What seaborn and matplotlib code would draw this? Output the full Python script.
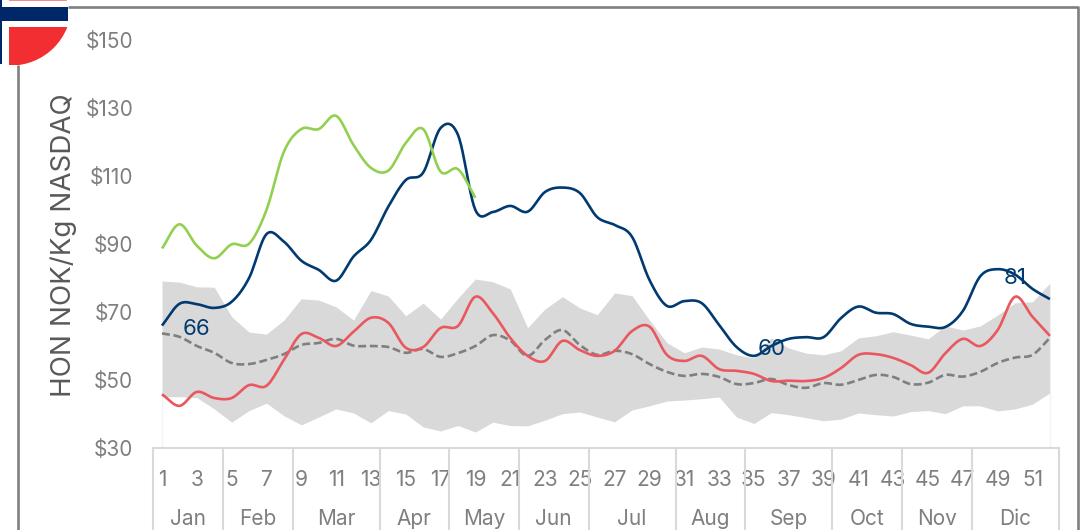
import numpy as np
import pandas as pd
import matplotlib
matplotlib.use("Agg")
import matplotlib.pyplot as plt
from matplotlib.patches import Circle, Rectangle
import seaborn as sns

# Weekly prices, NOK per kg
weeks = list(range(1, 53))
season_2023 = [66.0, 72.4, 72.3, 71.2, 73.0, 80.0, 92.9, 90.7, 85.1, 82.4, 79.2, 86.3, 91.2,
               101.0, 108.8, 111.0, 124.1, 122.1, 100.0, 99.4, 101.2, 99.5, 105.3, 106.6, 105.0, 97.9,
               95.6, 92.1, 79.4, 71.8, 73.2, 72.6, 66.2, 59.7, 57.1, 60.0, 62.1, 62.6, 62.6,
               68.2, 71.6, 69.8, 69.4, 66.5, 65.7, 65.6, 70.3, 80.5, 82.6, 81.0, 76.8, 73.8]
season_2024 = [88.7, 95.8, 89.5, 85.8, 89.9, 90.1, 100.0, 117.1, 123.8, 123.8, 127.7, 119.1, 112.4,
               111.6, 119.7, 123.8, 111.3, 112.0, 103.6]
season_2022 = [45.8, 42.4, 46.5, 44.7, 44.7, 48.5, 48.3, 55.9, 63.5, 62.4, 60.0, 64.2, 68.3,
               66.8, 59.5, 59.7, 65.3, 65.9, 74.5, 69.7, 62.4, 57.1, 55.6, 61.5, 58.8, 57.1,
               58.6, 64.4, 65.7, 57.4, 55.6, 57.1, 53.2, 52.7, 51.8, 49.7, 49.8, 49.7, 50.6,
               53.5, 57.4, 57.6, 56.5, 54.4, 52.1, 57.9, 62.1, 60.0, 64.7, 74.5, 68.6, 63.0]
average = [63.7, 62.7, 60.0, 58.0, 55.0, 54.7, 55.9, 57.6, 60.3, 60.9, 62.1, 60.1, 60.0,
           59.7, 58.0, 59.1, 56.8, 57.9, 60.0, 63.2, 61.6, 57.1, 61.8, 64.7, 60.3, 57.4,
           58.6, 57.6, 54.7, 52.4, 51.2, 51.8, 50.9, 48.8, 49.1, 50.3, 48.5, 47.7, 49.1,
           48.6, 50.0, 51.5, 50.9, 48.8, 49.2, 51.5, 51.0, 52.4, 55.0, 56.6, 57.4, 62.4]
range_high = [79.1, 78.8, 77.4, 77.3, 68.6, 64.1, 63.5, 67.6, 73.9, 73.5, 71.5, 67.6, 76.3,
              74.7, 68.9, 72.6, 67.9, 74.1, 79.7, 78.9, 76.8, 65.4, 70.9, 74.5, 71.2, 69.2,
              75.6, 74.8, 67.6, 61.0, 58.0, 59.7, 59.1, 57.4, 56.5, 62.4, 59.4, 57.9, 57.4,
              58.6, 62.4, 63.0, 64.2, 63.2, 62.1, 65.9, 64.7, 65.9, 69.1, 72.7, 73.0, 78.5]
range_low = [45.1, 45.1, 44.8, 41.5, 37.6, 41.0, 43.2, 39.5, 36.8, 39.1, 41.5, 40.3, 37.4,
             41.0, 40.0, 36.2, 35.0, 36.6, 34.7, 37.6, 36.6, 36.5, 38.2, 40.1, 40.6, 39.1,
             37.7, 41.2, 42.4, 43.8, 44.1, 44.5, 45.0, 39.1, 37.2, 40.4, 39.8, 38.9, 38.0,
             38.5, 40.3, 39.8, 39.4, 40.7, 41.0, 40.1, 42.4, 42.4, 40.9, 41.5, 42.9, 46.2]

months = ["Jan", "Feb", "Mar", "Apr", "May", "Jun", "Jul", "Aug", "Sep", "Oct", "Nov", "Dic"]
month_edges = [0.5, 4.5, 8.5, 13.5, 17.5, 21.5, 25.5, 30.5, 34.5, 39.5, 43.5, 47.5, 52.5]
price_ticks = [30, 50, 70, 90, 110, 130, 150]
value_labels = [(3, 66, "66"), (36, 60, "60"), (50, 81, "81")]

W, H = 1086, 530
NAVY, GREEN, RED, GREY = "#003A70", "#92D050", "#E9575F", "#7F7F7F"
BAND, RULE, TEXT = "#D9D9D9", "#D9D9D9", "#7F7F7F"

sns.set_style("white")
plt.rcParams["font.family"] = ["Inter", "DejaVu Sans"]


def smoothed(xs, ys, steps=12):
    """Catmull-Rom curve through the weekly values, for the rounded line look."""
    x = np.asarray(xs, float)
    y = np.asarray(ys, float)
    px = np.r_[2 * x[0] - x[1], x, 2 * x[-1] - x[-2]]
    py = np.r_[2 * y[0] - y[1], y, 2 * y[-1] - y[-2]]
    t = np.linspace(0, 1, steps, endpoint=False)[:, None]

    def segs(p):
        a, b, c, d = p[:-3], p[1:-2], p[2:-1], p[3:]
        return 0.5 * (2 * b + (c - a) * t + (2 * a - 5 * b + 4 * c - d) * t ** 2
                      + (3 * b - a - 3 * c + d) * t ** 3)

    return (np.r_[segs(px).T.ravel(), x[-1]], np.r_[segs(py).T.ravel(), y[-1]])


fig = plt.figure(figsize=(W / 100, H / 100), dpi=100, facecolor="white")
ax = fig.add_axes([153.3 / W, (H - 448) / H, (1058.6 - 153.3) / W, 408 / H])

ax.fill_between(weeks, range_low, range_high, color=BAND, lw=0, zorder=1)
# Hairlines at the first and last week, visible only under the band
ax.plot([1, 1], [30, range_low[0]], color="#F3F3F3", lw=1, zorder=0)
ax.plot([52, 52], [30, range_low[-1]], color="#F3F3F3", lw=1, zorder=0)

series = [(average, GREY, (3.0, 1.4)), (season_2022, RED, ""), (season_2023, NAVY, ""), (season_2024, GREEN, "")]
for values, colour, dash in series:
    sx, sy = smoothed(weeks[:len(values)], values)
    frame = pd.DataFrame({"week": sx, "price": sy})
    sns.lineplot(data=frame, x="week", y="price", ax=ax, color=colour, lw=1.9, sort=False,
                 estimator=None, zorder=3, dashes=dash if dash else True,
                 solid_capstyle="butt")

ax.set_xlim(0.5, 52.5)
ax.set_ylim(30, 150)
ax.set_xlabel("")
ax.set_ylabel("")
ax.set_yticks(price_ticks, [f"${v}" for v in price_ticks])
ax.set_xticks(weeks[::2], [str(w) for w in weeks[::2]])
ax.tick_params(axis="y", length=0, pad=14.5, labelsize=15, labelcolor=TEXT)
ax.tick_params(axis="x", length=0, pad=15.5, labelsize=15, labelcolor=TEXT)
for name in ("left", "right", "top"):
    ax.spines[name].set_visible(False)
ax.spines["bottom"].set_color(RULE)
ax.spines["bottom"].set_linewidth(1.5)

# Two-level category axis: month separators and month names below the week numbers
xt = ax.get_xaxis_transform()
for edge in month_edges:
    ax.plot([edge, edge], [0, -82 / 408], transform=xt, color=RULE, lw=1.5, clip_on=False, zorder=1.5)
for name, lo, hi in zip(months, month_edges[:-1], month_edges[1:]):
    ax.text((lo + hi) / 2, -71 / 408, name, transform=xt, ha="center", va="center",
            fontsize=15, color=TEXT)

for wk, val, text in value_labels:
    ax.annotate(text, (wk, val), xytext=(0, -2.5), textcoords="offset points", ha="center",
                va="center", fontsize=16, color=NAVY, zorder=4)

# Frame and flag badge, placed in pixel units over the whole figure
ov = fig.add_axes([0, 0, 1, 1], zorder=5)
ov.set_xlim(0, W)
ov.set_ylim(H, 0)
ov.axis("off")
ov.patch.set_alpha(0)
ov.plot([68, 1077.5, 1077.5], [7, 7, H], color="#7F7F7F", lw=1.9, solid_capstyle="butt")
ov.plot([18, 18], [65, H], color="#7F7F7F", lw=1.9, solid_capstyle="butt")
ov.add_patch(Rectangle((0, 0), 2, 64, color="#002868", lw=0))
ov.add_patch(Rectangle((0, 7), 68, 13.5, color="#002868", lw=0))
ov.add_patch(Rectangle((9, 0), 58, 1.2, color="#F58A8F", lw=0))
clip = Rectangle((9, 27), 60, 38, transform=ov.transData)
disc = Circle((11, 5), 60.5, color="#F22E33", lw=0)
ov.add_patch(disc)
disc.set_clip_path(clip)

fig.text(64 / W, 1 - 245 / H, "HON NOK/Kg NASDAQ", rotation=90, ha="center", va="center",
         fontsize=20, color="#595959")

fig.savefig("out.png", dpi=100)
